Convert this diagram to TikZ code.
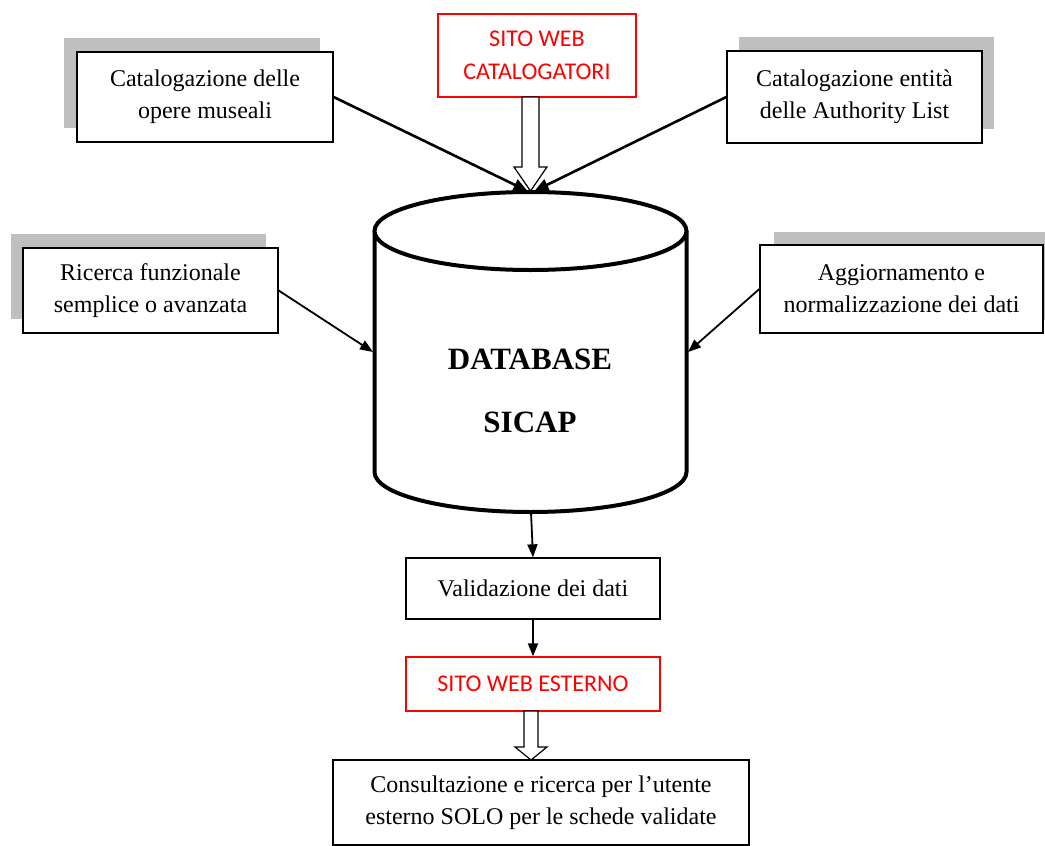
\documentclass[tikz,border=0pt]{standalone}
\usepackage{fontspec}
\setmainfont{Liberation Serif}
\newfontfamily\redfont{Carlito}
\usetikzlibrary{arrows.meta,calc}
\begin{document}
\begin{tikzpicture}[x=1pt,y=-1pt,
  box/.style={draw=black, line width=1.3pt, fill=white, inner sep=0pt, align=center, font=\fontsize{24}{32}\selectfont},
  shadowbox/.style={fill=black!25, draw=none},
  redbox/.style={draw=red, line width=1.3pt, fill=white, inner sep=0pt, align=center, text=red, font=\redfont\fontsize{24}{33}\selectfont},
  arr/.style={-{Triangle[length=14pt,width=12pt]}, line width=2.6pt},
  sarr/.style={-{Triangle[length=13pt,width=10pt]}, line width=1.8pt},
  hollow/.style={draw=black, line width=1.2pt, fill=white, line join=miter},
  cyl/.style={draw=black, line width=4pt, fill=white}
]
\path[use as bounding box] (0,0) rectangle (1045,846);
\clip (0,0) rectangle (1045,846);

% shadows
\fill[shadowbox] (64,38) rectangle (320,128);
\fill[shadowbox] (739,37) rectangle (994,129);
\fill[shadowbox] (11,234) rectangle (266,319);
\fill[shadowbox] (774,232) rectangle (1060,320);

% boxes
\node[box, minimum width=256pt, minimum height=90pt] (cat) at (205,97) {Catalogazione delle\\opere museali};
\node[box, minimum width=255pt, minimum height=92pt] (auth) at (854.5,97) {Catalogazione entità\\delle Authority List};
\node[box, minimum width=255pt, minimum height=85pt] (ric) at (150.5,290.5) {Ricerca funzionale\\semplice o avanzata};
\node[box, minimum width=283pt, minimum height=88pt] (agg) at (901.5,289) {Aggiornamento e\\normalizzazione dei dati};
\node[redbox, minimum width=198pt, minimum height=83pt] (web1) at (537,55.5) {SITO WEB\\CATALOGATORI};
\node[box, minimum width=254pt, minimum height=61pt] (val) at (533,588.5) {Validazione dei dati};
\node[redbox, minimum width=254pt, minimum height=54pt] (web2) at (533,684) {SITO WEB ESTERNO};
\node[box, minimum width=416pt, minimum height=85pt] (cons) at (541,802.5) {Consultazione e ricerca per l’utente\\esterno SOLO per le schede validate};

% cylinder
\draw[cyl] (374.5,231) -- (374.5,472) arc[start angle=180, end angle=360, x radius=156pt, y radius=40pt] -- (686.5,231);
\draw[cyl] (530.5,231) ellipse[x radius=156pt, y radius=39pt];
\node[align=center, font=\bfseries\fontsize{31}{63}\selectfont] (db) at (530,391) {DATABASE\\SICAP};

\coordinate (dbtop) at (530.5,191);
\coordinate (dbleft) at (373,352);
\coordinate (dbright) at (688,352);
\coordinate (dbbot) at (531,512);
\coordinate (h1) at (530.5,97);
\coordinate (h2) at (531,711);
\coordinate (h2tip) at (531,760);

% hollow arrows
\draw[hollow] ($(h1)+(-8.5,0)$) -- ($(h1)+(8.5,0)$) -- ($(h1)+(8.5,70)$) -- ($(h1)+(16.5,70)$) -- (dbtop)
  -- ($(h1)+(-16.5,70)$) -- ($(h1)+(-8.5,70)$) -- cycle;
\draw[hollow] ($(h2)+(-7,0)$) -- ($(h2)+(7,0)$) -- ($(h2)+(7,36)$) -- ($(h2)+(16,36)$) -- (h2tip)
  -- ($(h2)+(-16,36)$) -- ($(h2)+(-7,36)$) -- cycle;

% arrows
\draw[arr] (cat.east) -- ($(dbtop)+(-3,0)$);
\draw[arr] (auth.west) -- ($(dbtop)+(4,0)$);
\draw[sarr] (ric.east) -- (dbleft);
\draw[sarr] (agg.west) -- (dbright);
\draw[sarr] (dbbot) -- (val.north);
\draw[sarr] (val.south) -- (web2.north);
\end{tikzpicture}
\end{document}
